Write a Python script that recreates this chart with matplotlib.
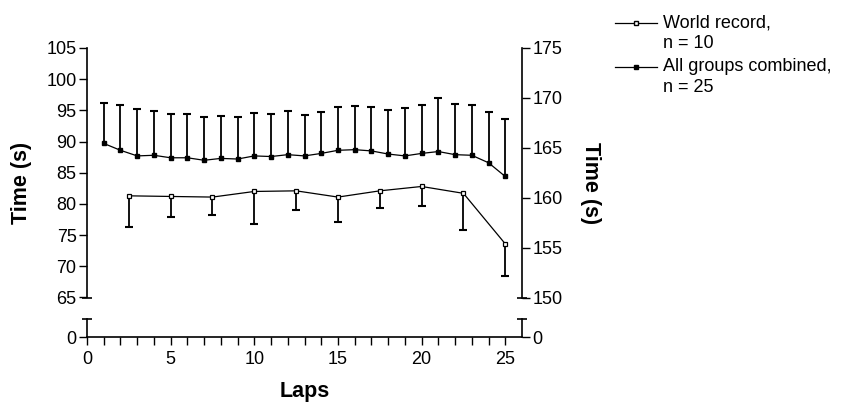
import numpy as np
import matplotlib.pyplot as plt
from matplotlib.lines import Line2D

plt.rcParams['font.family'] = ['Liberation Sans', 'DejaVu Sans']

# All groups combined, n = 25 (mean and upward SD per lap)
laps_all = list(range(1, 26))
time_all = [89.7, 88.6, 87.7, 87.8, 87.4, 87.4, 87.0, 87.3, 87.2, 87.7,
            87.6, 87.9, 87.7, 88.1, 88.6, 88.7, 88.5, 88.0, 87.7, 88.1,
            88.4, 87.9, 87.8, 86.6, 84.4]
sd_all = [6.5, 7.2, 7.5, 7.1, 7.0, 7.0, 7.0, 6.8, 6.7, 6.9,
          6.8, 7.0, 6.6, 6.6, 7.0, 7.0, 7.0, 7.1, 7.7, 7.8,
          8.6, 8.2, 8.0, 8.1, 9.2]

# World record, n = 10 (mean and downward SD every 2.5 laps)
laps_wr = [2.5, 5, 7.5, 10, 12.5, 15, 17.5, 20, 22.5, 25]
time_wr = [81.3, 81.2, 81.1, 82.0, 82.1, 81.1, 82.1, 82.8, 81.7, 73.6]
sd_wr = [5.0, 3.3, 2.8, 5.2, 3.1, 4.0, 2.8, 3.2, 5.8, 5.2]

left_ticks = [65, 70, 75, 80, 85, 90, 95, 100, 105]
right_ticks = [150, 155, 160, 165, 170, 175]
x_major = [0, 5, 10, 15, 20, 25]

W, H = 852, 408
fig = plt.figure(figsize=(W / 100, H / 100), dpi=100)

# upper panel (broken axis) and lower panel holding the zero
ax = fig.add_axes([87 / W, (H - 297.5) / H, 435 / W, 249.5 / H])
axb = fig.add_axes([87 / W, (H - 337) / H, 435 / W, 18 / H])

tick_kw = dict(direction='out', length=5.5, width=1, labelsize=13, color='k', pad=2)

# --- upper panel ---
ax.set_xlim(0, 26)
ax.set_ylim(65, 105)
ax.set_yticks(left_ticks)
ax.tick_params(axis='y', **tick_kw)
ax.tick_params(axis='x', bottom=False, labelbottom=False)
for s in ['top', 'bottom', 'right']:
    ax.spines[s].set_visible(False)
ax.spines['left'].set_linewidth(1.2)

axr = ax.twinx()
axr.set_ylim(150, 175)
axr.set_yticks(right_ticks)
axr.tick_params(axis='y', **tick_kw)
for s in ['top', 'bottom', 'left']:
    axr.spines[s].set_visible(False)
axr.spines['right'].set_linewidth(1.2)

# break caps at the bottom of the upper panel
ax.plot([0, 1], [0, 0], transform=ax.transAxes, ls='none', marker='_',
        ms=7.5, mew=1.2, color='k', clip_on=False)

# all groups: line, filled squares, upward SD
eb = ax.errorbar(laps_all, time_all, yerr=[np.zeros(len(sd_all)), sd_all],
                 fmt='none', ecolor='k', elinewidth=1.3, capsize=2.6, capthick=1.5)
for cl in eb[1]:
    if np.allclose(cl.get_ydata(), time_all):
        cl.set_visible(False)
ax.plot(laps_all, time_all, color='k', lw=0.9, marker='s', ms=3.4,
        mfc='k', mec='k', zorder=3)

# world record: line, open squares, downward SD
eb = ax.errorbar(laps_wr, time_wr, yerr=[sd_wr, np.zeros(len(sd_wr))],
                 fmt='none', ecolor='k', elinewidth=1.3, capsize=2.6, capthick=1.5)
for cl in eb[1]:
    if np.allclose(cl.get_ydata(), time_wr):
        cl.set_visible(False)
ax.plot(laps_wr, time_wr, color='k', lw=0.9, marker='s', ms=3.5,
        mfc='white', mec='k', mew=0.9, zorder=3)

# --- lower panel ---
axb.set_xlim(0, 26)
axb.set_ylim(0, 1)
axb.set_yticks([0])
axb.set_xticks(x_major)
axb.set_xticks([i for i in range(1, 25) if i % 5 != 0], minor=True)
axb.tick_params(axis='y', left=True, right=True, labelleft=True, labelright=True, **tick_kw)
axb.tick_params(axis='x', which='both', direction='out', length=5.5, width=1,
                labelsize=13, pad=4.5)
axb.spines['top'].set_visible(False)
for s in ['left', 'right', 'bottom']:
    axb.spines[s].set_linewidth(1.2)
axb.plot([0, 1], [1, 1], transform=axb.transAxes, ls='none', marker='_',
         ms=7.5, mew=1.2, color='k', clip_on=False)

# axis titles
fig.text(22 / W, 1 - 183 / H, 'Time (s)', rotation=90, fontsize=15.5,
         fontweight='bold', ha='center', va='center')
fig.text(590 / W, 1 - 183 / H, 'Time (s)', rotation=270, fontsize=15.5,
         fontweight='bold', ha='center', va='center')
fig.text(304.5 / W, 1 - 392 / H, 'Laps', fontsize=15.5,
         fontweight='bold', ha='center', va='center')

# legend, drawn by hand so the handle sits on the first text line
legend_rows = [
    ('World record,', 'n = 10', 'white', 27),
    ('All groups combined,', 'n = 25', 'k', 71),
]
for label, n_txt, face, base in legend_rows:
    yh = 1 - (base - 4) / H
    fig.add_artist(Line2D([615 / W, 636 / W, 657 / W], [yh, yh, yh],
                          transform=fig.transFigure, color='k', lw=0.9,
                          marker='s', ms=2.6, mfc=face, mec='k', markevery=[1]))
    fig.text(663 / W, 1 - base / H, label, fontsize=13, va='baseline')
    fig.text(663 / W, 1 - (base + 21.5) / H, n_txt, fontsize=13, va='baseline')

fig.savefig('out.png', dpi=100)
